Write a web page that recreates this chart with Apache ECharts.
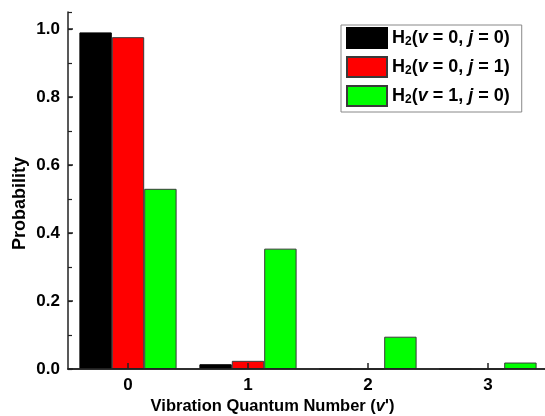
<!DOCTYPE html>
<html>
<head>
<meta charset="utf-8">
<script src="https://cdn.jsdelivr.net/npm/echarts@6/dist/echarts.min.js"></script>
<style>
  html, body { margin: 0; padding: 0; background: #fff; }
  #chart { width: 545px; height: 416px; }
</style>
</head>
<body>
<div id="chart"></div>
<script>
// Final vibrational quantum number v'
const categories = ['0', '1', '2', '3'];

// Product-state probabilities for each initial H2 state
const probV0J0 = [0.990, 0.014, 0, 0];
const probV0J1 = [0.976, 0.024, 0, 0];
const probV1J0 = [0.530, 0.354, 0.095, 0.019];

const seriesNames = ['H2(v = 0, j = 0)', 'H2(v = 0, j = 1)', 'H2(v = 1, j = 0)'];
const seriesLabels = [
  'H{sub|2}({it|v} = 0, {it|j} = 0)',
  'H{sub|2}({it|v} = 0, {it|j} = 1)',
  'H{sub|2}({it|v} = 1, {it|j} = 0)'
];
const colors = ['#000000', '#ff0000', '#00ff00'];

const font = 'Arial, "Liberation Sans", Helvetica, sans-serif';
const axisColor = '#222';

const chart = echarts.init(document.getElementById('chart'), null, { renderer: 'canvas' });

function barSeries(i, data) {
  return {
    name: seriesNames[i],
    type: 'bar',
    data: data,
    xAxisIndex: 0,
    yAxisIndex: 0,
    barGap: '0%',
    barCategoryGap: '19%',
    itemStyle: {
      color: colors[i],
      borderColor: i === 0 ? '#000' : '#3a3a3a',
      borderWidth: 1
    },
    emphasis: { disabled: true },
    z: 2
  };
}

chart.setOption({
  animation: false,
  backgroundColor: '#fff',
  title: {
    text: "Vibration Quantum Number ({it|v}')",
    left: 'center',
    top: 398,
    padding: 0,
    textStyle: {
      fontFamily: font, fontWeight: 'bold', fontSize: 16.5, color: '#000',
      rich: { it: { fontFamily: font, fontWeight: 'bold', fontStyle: 'italic', fontSize: 16.5, color: '#000' } }
    }
  },
  grid: {
    left: 68, top: 12, right: -3, bottom: 47,
    outerBoundsMode: 'none',
    containLabel: false,
    show: false
  },
  legend: {
    orient: 'vertical',
    left: 341,
    top: 25,
    padding: [2, 12, 5, 5],
    itemGap: 7,
    itemWidth: 40,
    itemHeight: 20,
    icon: 'rect',
    backgroundColor: '#fff',
    borderColor: '#888',
    borderWidth: 1,
    borderRadius: 0,
    selectedMode: false,
    data: seriesNames,
    formatter: function (name) {
      return seriesLabels[seriesNames.indexOf(name)];
    },
    textStyle: {
      fontFamily: font,
      fontWeight: 'bold',
      fontSize: 18,
      lineHeight: 20,
      color: '#000',
      rich: {
        sub: { fontFamily: font, fontWeight: 'bold', fontSize: 12, lineHeight: 20, color: '#000', padding: [8, 0, 0, 0] },
        it: { fontFamily: font, fontWeight: 'bold', fontStyle: 'italic', fontSize: 18, lineHeight: 20, color: '#000' }
      }
    }
  },
  xAxis: [
    {
      type: 'category',
      data: categories,
      boundaryGap: true,
      z: 10,
      axisLine: { show: true, lineStyle: { color: axisColor, width: 1.5 } },
      axisTick: { show: true, inside: true, alignWithLabel: true, length: 6, lineStyle: { color: axisColor, width: 1.5 } },
      axisLabel: { fontFamily: font, fontWeight: 'bold', fontSize: 17, color: '#000', margin: 8 },
      splitLine: { show: false }
    },
    {
      // top frame line
      type: 'category',
      data: categories,
      position: 'top',
      z: 10,
      axisLine: { show: true, lineStyle: { color: axisColor, width: 1.5 } },
      axisTick: { show: false },
      axisLabel: { show: false },
      splitLine: { show: false }
    }
  ],
  yAxis: [
    {
      type: 'value',
      min: 0,
      max: 1.05,
      interval: 0.2,
      z: 10,
      name: 'Probability',
      nameLocation: 'middle',
      nameGap: 39,
      nameMoveOverlap: false,
      nameTextStyle: {
        fontFamily: font, fontWeight: 'bold', fontSize: 18, color: '#000',
        padding: [0, 26, 0, 0]
      },
      axisLine: { show: true, lineStyle: { color: axisColor, width: 1.5 } },
      axisTick: { show: true, inside: true, length: 5, lineStyle: { color: axisColor, width: 1.5 } },
      axisLabel: {
        fontFamily: font, fontWeight: 'bold', fontSize: 17, color: '#000', margin: 8,
        showMaxLabel: false,
        formatter: function (v) { return v.toFixed(1); }
      },
      splitLine: { show: false }
    },
    {
      // minor ticks every 0.1
      type: 'value',
      position: 'left',
      min: 0,
      max: 1.05,
      interval: 0.1,
      z: 10,
      axisLine: { show: false },
      axisTick: { show: true, inside: true, length: 4, lineStyle: { color: axisColor, width: 1.2 } },
      axisLabel: { show: false },
      splitLine: { show: false }
    }
  ],
  series: [
    barSeries(0, probV0J0),
    barSeries(1, probV0J1),
    barSeries(2, probV1J0)
  ]
});
</script>
</body>
</html>
